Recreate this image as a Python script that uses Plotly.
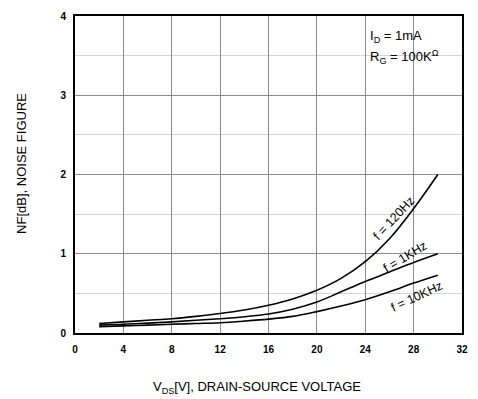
import plotly.graph_objects as go

vds = [2, 4, 6, 8, 10, 12, 14, 16, 18, 20, 22, 24, 26, 28, 30]
nf_120hz = [0.12, 0.14, 0.16, 0.18, 0.21, 0.245, 0.29, 0.35, 0.43, 0.54, 0.69, 0.90, 1.19, 1.57, 2.0]
nf_1khz = [0.10, 0.11, 0.125, 0.14, 0.16, 0.18, 0.205, 0.24, 0.30, 0.39, 0.52, 0.65, 0.77, 0.89, 1.0]
nf_10khz = [0.08, 0.09, 0.10, 0.11, 0.12, 0.13, 0.15, 0.175, 0.21, 0.27, 0.34, 0.42, 0.52, 0.63, 0.73]

x_ticks = [0, 4, 8, 12, 16, 20, 24, 28, 32]
y_ticks = [0, 1, 2, 3, 4]

labels = ["f = 120Hz", "f = 1KHz", "f = 10KHz"]
label_pos = [(26.4, 1.45, -47), (27.3, 0.96, -31), (28.2, 0.46, -25)]

FONT = "Liberation Sans, Arial"

fig = go.Figure()
for ys in (nf_120hz, nf_1khz, nf_10khz):
    fig.add_trace(go.Scatter(x=vds, y=ys, mode="lines",
                             line=dict(color="black", width=1.6, shape="spline", smoothing=1.0),
                             showlegend=False, hoverinfo="skip"))

for txt, (lx, ly, ang) in zip(labels, label_pos):
    fig.add_annotation(x=lx, y=ly, text=txt, textangle=ang, showarrow=False,
                       font=dict(family=FONT, size=12.5, color="black"))

fig.add_annotation(xref="paper", yref="paper", x=0.758, y=0.935, xanchor="left", yanchor="middle",
                   text="I<sub>D</sub> = 1mA", showarrow=False,
                   font=dict(family=FONT, size=13, color="black"))
fig.add_annotation(xref="paper", yref="paper", x=0.758, y=0.872, xanchor="left", yanchor="middle",
                   text="R<sub>G</sub> = 100K<sup style='font-size:9px'>Ω</sup>", showarrow=False,
                   font=dict(family=FONT, size=13, color="black"))

fig.add_annotation(xref="paper", yref="paper", x=(260 - 75) / 393, y=-(388 - 333) / 319,
                   xanchor="center", yanchor="middle",
                   text="V<sub>DS</sub>[V], DRAIN-SOURCE VOLTAGE", showarrow=False,
                   font=dict(family=FONT, size=13, color="black"))
fig.add_annotation(xref="paper", yref="paper", x=-(75 - 20) / 393, y=(333 - 162) / 319,
                   xanchor="center", yanchor="middle", textangle=-90,
                   text="NF[dB], NOISE FIGURE", showarrow=False,
                   font=dict(family=FONT, size=13, color="black"))

fig.update_layout(
    width=478, height=399,
    margin=dict(l=75, r=10, t=14, b=66),
    plot_bgcolor="white", paper_bgcolor="white",
    xaxis=dict(range=[0, 32], tickvals=x_ticks, ticktext=[str(v) for v in x_ticks],
               showgrid=True, gridcolor="#8c8c8c", gridwidth=1,
               showline=True, linecolor="black", linewidth=2, mirror=True,
               ticks="", zeroline=False, ticklabelstandoff=6,
               tickfont=dict(family=FONT, size=10, color="black", weight="bold")),
    yaxis=dict(range=[0, 4], tickvals=y_ticks, ticktext=[str(v) for v in y_ticks],
               showgrid=True, gridcolor="#8c8c8c", gridwidth=1,
               minor=dict(dtick=0.5, showgrid=True, gridcolor="#d4d4d4", gridwidth=1),
               showline=True, linecolor="black", linewidth=2, mirror=True,
               ticks="", zeroline=False, ticklabelstandoff=5,
               tickfont=dict(family=FONT, size=10, color="black", weight="bold")),
)

fig.write_html("out.html", config={"displayModeBar": False},
               post_script="document.body.style.margin='0px';")
